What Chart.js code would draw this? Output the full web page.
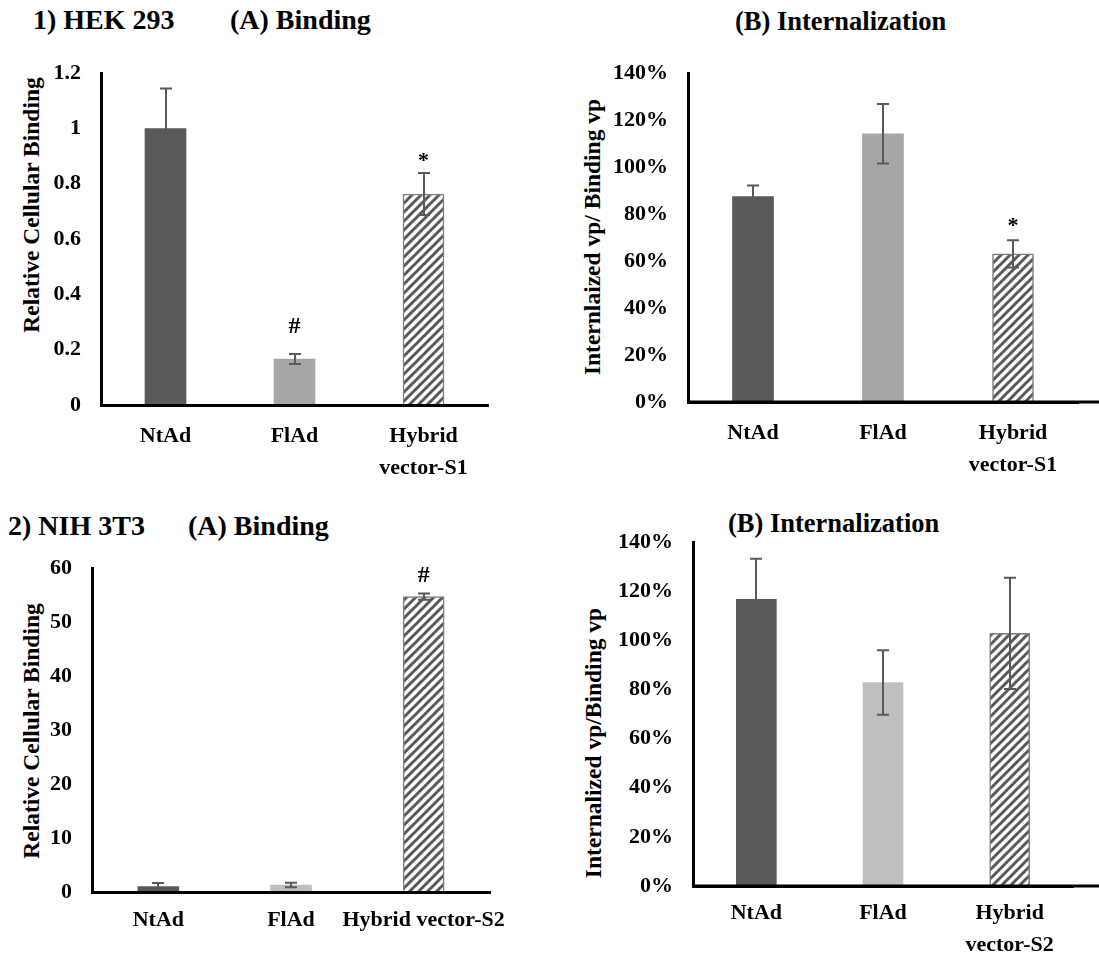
<!DOCTYPE html>
<html>
<head>
<meta charset="utf-8">
<script src="https://cdn.jsdelivr.net/npm/chart.js@4.4.1/dist/chart.umd.min.js"></script>
<style>
  html, body { margin: 0; padding: 0; background: #fff; }
  body { width: 1099px; height: 956px; position: relative; overflow: hidden;
         font-family: "Liberation Serif", "Times New Roman", serif; font-weight: bold; color: #000; }
  canvas { position: absolute; }
  .ttl { position: absolute; white-space: pre; line-height: 1; }
  .ytl { position: absolute; white-space: nowrap; font-size: 23.5px; line-height: 1;
         transform: translate(-50%, -50%) rotate(-90deg); }
</style>
</head>
<body>
  <div class="ttl" style="left:33px; top:6px; font-size:28px;">1) HEK 293</div>
  <div class="ttl" style="left:230px; top:6px; font-size:28px;">(A) Binding</div>
  <div class="ttl" style="left:735px; top:8px; font-size:26.5px;">(B) Internalization</div>
  <div class="ttl" style="left:8px; top:512px; font-size:28px;">2) NIH 3T3</div>
  <div class="ttl" style="left:188px; top:512px; font-size:28px;">(A) Binding</div>
  <div class="ttl" style="left:728px; top:510px; font-size:26.5px;">(B) Internalization</div>

  <div class="ytl" style="left:32px; top:205px;">Relative Cellular Binding</div>
  <div class="ytl" style="left:593px; top:237px;">Internlaized vp/ Binding vp</div>
  <div class="ytl" style="left:32px; top:731px;">Relative Cellular Binding</div>
  <div class="ytl" style="left:594px; top:743px;">Internalized vp/Binding vp</div>

  <canvas id="c1" width="550" height="440" style="left:0; top:40px;"></canvas>
  <canvas id="c2" width="549" height="440" style="left:550px; top:40px;"></canvas>
  <canvas id="c3" width="550" height="456" style="left:0; top:500px;"></canvas>
  <canvas id="c4" width="549" height="456" style="left:550px; top:500px;"></canvas>

<script>
// Vectors compared in each experiment
const vectorsHek = ['NtAd', 'FlAd', ['Hybrid', 'vector-S1']];
const vectorsNihBinding = ['NtAd', 'FlAd', 'Hybrid vector-S2'];
const vectorsNihIntern = ['NtAd', 'FlAd', ['Hybrid', 'vector-S2']];

// 1) HEK 293 — relative cellular binding (mean, SD)
const hekBinding = [1.0, 0.166, 0.763];
const hekBindingSd = [0.145, 0.018, 0.076];
const hekBindingMarks = ['', '#', '*'];

// 1) HEK 293 — internalized / bound virus particles, %
const hekIntern = [87.5, 114.2, 63.1];
const hekInternSd = [4.7, 12.7, 5.8];
const hekInternMarks = ['', '', '*'];

// 2) NIH 3T3 — relative cellular binding
const nihBinding = [1.0, 1.3, 54.7];
const nihBindingSd = [0.65, 0.4, 0.6];
const nihBindingMarks = ['', '', '#'];

// 2) NIH 3T3 — internalized / bound virus particles, %
const nihIntern = [116.7, 82.8, 102.8];
const nihInternSd = [16.5, 13.1, 22.6];
const nihInternMarks = ['', '', ''];

// Axis tick settings
const bindingTicksHek = { max: 1.2, step: 0.2 };
const bindingTicksNih = { max: 60, step: 10 };
const internTicks = { max: 140, step: 20 };

Chart.defaults.font.family = '"Liberation Serif", "Times New Roman", serif';
Chart.defaults.font.weight = 'bold';
Chart.defaults.color = '#000';
Chart.defaults.devicePixelRatio = 1;

const DARK = '#595959';
const SERIF = '"Liberation Serif", "Times New Roman", serif';

// Diagonal hatch fill for the hybrid vector bars
function hatch() {
  const p = 9;
  const c = document.createElement('canvas');
  c.width = p; c.height = p;
  const g = c.getContext('2d');
  g.fillStyle = '#fff';
  g.fillRect(0, 0, p, p);
  g.strokeStyle = DARK;
  g.lineWidth = 3;
  g.lineCap = 'square';
  g.beginPath();
  g.moveTo(0, p); g.lineTo(p, 0);
  g.moveTo(-1, 1); g.lineTo(1, -1);
  g.moveTo(p - 1, p + 1); g.lineTo(p + 1, p - 1);
  g.stroke();
  return document.createElement('canvas').getContext('2d').createPattern(c, 'repeat');
}

// SD whiskers drawn from the value scale
const errorBars = {
  id: 'errorBars',
  afterDatasetsDraw(chart, args, opts) {
    const ds = chart.data.datasets[0];
    const meta = chart.getDatasetMeta(0);
    const ys = chart.scales.y;
    const ctx = chart.ctx;
    ctx.save();
    ctx.strokeStyle = opts.color;
    ctx.lineWidth = opts.width;
    meta.data.forEach((bar, i) => {
      const v = ds.data[i], e = opts.sd[i];
      const t = ys.getPixelForValue(v + e);
      const b = ys.getPixelForValue(Math.max(v - e, 0));
      const x = Math.round(bar.x);
      ctx.beginPath();
      ctx.moveTo(x, t); ctx.lineTo(x, b);
      ctx.moveTo(x - opts.cap, t); ctx.lineTo(x + opts.cap, t);
      ctx.moveTo(x - opts.cap, b); ctx.lineTo(x + opts.cap, b);
      ctx.stroke();
    });
    // significance symbols above the whiskers
    ctx.fillStyle = '#000';
    ctx.textAlign = 'center';
    ctx.textBaseline = 'alphabetic';
    (opts.marks || []).forEach((m, i) => {
      if (!m) return;
      const v = ds.data[i], e = opts.sd[i];
      const t = ys.getPixelForValue(v + e);
      ctx.font = 'bold ' + (m === '#' ? 24 : 22) + 'px ' + SERIF;
      ctx.fillText(m, meta.data[i].x, t - opts.lift[i]);
    });
    ctx.restore();
  }
};

// Baseline that runs from the value axis to the panel edge
const runout = {
  id: 'runout',
  afterDraw(chart, args, opts) {
    if (!opts.on) return;
    const ctx = chart.ctx, a = chart.chartArea;
    ctx.save();
    ctx.strokeStyle = '#000';
    ctx.lineWidth = 3;
    ctx.beginPath();
    ctx.moveTo(a.left, a.bottom);
    ctx.lineTo(chart.width, a.bottom);
    ctx.stroke();
    ctx.restore();
  }
};

const fmtNum = (v) => String(Number(v.toFixed(2)));
const fmtPct = (v) => Math.round(v) + '%';

function panel(id, cfg) {
  const fills = [DARK, cfg.light, hatch()];
  new Chart(document.getElementById(id), {
    type: 'bar',
    data: {
      labels: cfg.labels,
      datasets: [{
        data: cfg.values,
        backgroundColor: fills,
        borderColor: ['rgba(0,0,0,0)', 'rgba(0,0,0,0)', '#7f7f7f'],
        borderWidth: [0, 0, 1.5],
        barThickness: cfg.barW
      }]
    },
    options: {
      responsive: false,
      animation: false,
      events: [],
      layout: { padding: cfg.pad },
      plugins: {
        legend: { display: false },
        tooltip: { enabled: false },
        errorBars: { sd: cfg.sd, marks: cfg.marks, lift: cfg.lift, color: DARK, width: 2, cap: 6 },
        runout: { on: cfg.runout }
      },
      scales: {
        x: {
          offset: true,
          grid: { display: false, drawTicks: false },
          border: { display: true, color: '#000', width: 3, z: 1 },
          ticks: {
            autoSkip: false, maxRotation: 0, minRotation: 0,
            padding: cfg.xPad,
            font: { size: 22, weight: 'bold', lineHeight: 1.45 }
          },
          afterFit(s) { s.height = cfg.xH; }
        },
        y: {
          min: 0,
          max: cfg.ticks.max,
          grid: { display: false, drawTicks: false },
          border: { display: true, color: '#000', width: 3, z: 1 },
          ticks: {
            stepSize: cfg.ticks.step,
            padding: 20,
            font: { size: 22, weight: 'bold' },
            callback: cfg.pct ? fmtPct : fmtNum
          },
          afterFit(s) { s.width = cfg.yW; }
        }
      }
    },
    plugins: [errorBars, runout]
  });
}

panel('c1', {
  labels: vectorsHek, values: hekBinding, sd: hekBindingSd, marks: hekBindingMarks, lift: [0, 21, 6],
  light: '#a6a6a6', ticks: bindingTicksHek, pct: false,
  pad: { top: 32, right: 62, bottom: 0, left: 0 }, yW: 101, xH: 75, xPad: 15, barW: 41, runout: false
});
panel('c2', {
  labels: vectorsHek, values: hekIntern, sd: hekInternSd, marks: hekInternMarks, lift: [0, 0, 8],
  light: '#a6a6a6', ticks: internTicks, pct: true,
  pad: { top: 32, right: 21, bottom: 3, left: 0 }, yW: 138, xH: 75, xPad: 15, barW: 41, runout: true
});
panel('c3', {
  labels: vectorsNihBinding, values: nihBinding, sd: nihBindingSd, marks: nihBindingMarks, lift: [0, 0, 11],
  light: '#bfbfbf', ticks: bindingTicksNih, pct: false,
  pad: { top: 68, right: 60, bottom: 4, left: 0 }, yW: 92, xH: 60, xPad: 12, barW: 41, runout: false
});
panel('c4', {
  labels: vectorsNihIntern, values: nihIntern, sd: nihInternSd, marks: nihInternMarks, lift: [0, 0, 0],
  light: '#bfbfbf', ticks: internTicks, pct: true,
  pad: { top: 42, right: 26, bottom: 0, left: 0 }, yW: 143, xH: 70, xPad: 11, barW: 40, runout: true
});
</script>
</body>
</html>
